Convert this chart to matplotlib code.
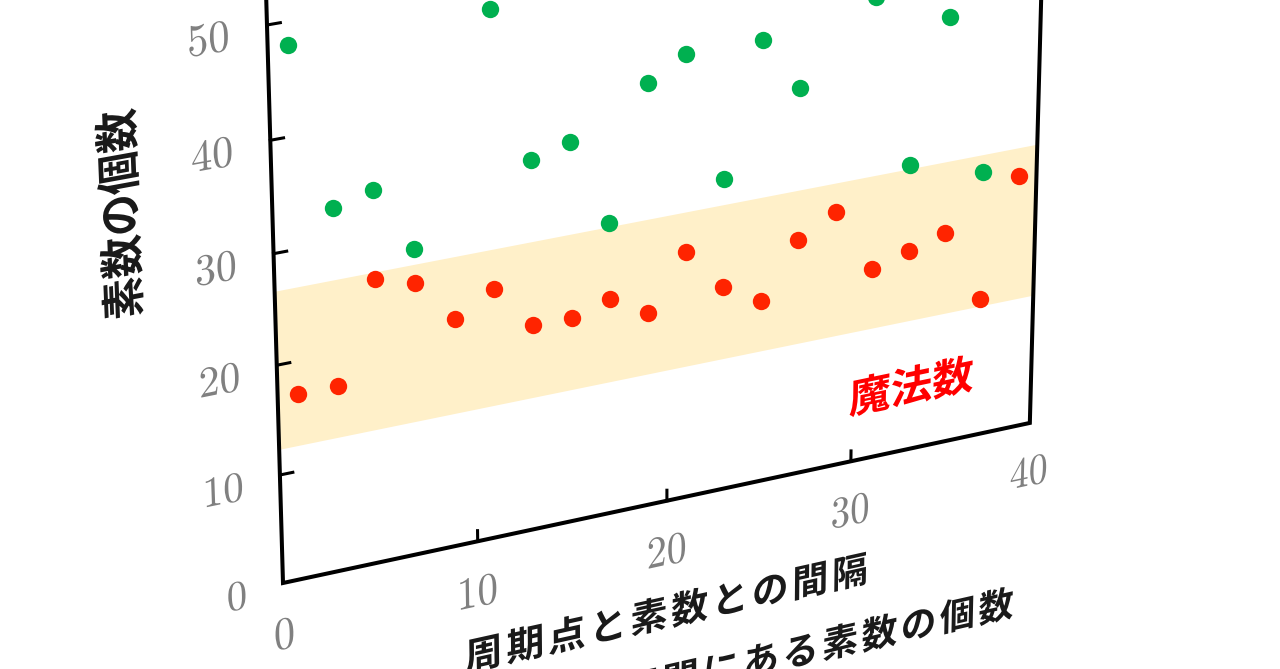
import numpy as np
import matplotlib
matplotlib.use('Agg')
import matplotlib.pyplot as plt
import matplotlib.transforms as mtransforms
from matplotlib.textpath import TextPath
from matplotlib.patches import PathPatch
from matplotlib.path import Path
from matplotlib.font_manager import FontProperties

plt.rcParams['mathtext.fontset'] = 'cm'

# red points: count inside the "magic number" band
red_gap = [1, 3, 5, 7, 9, 11, 13, 15, 17, 19, 21, 23, 25, 27, 29, 31, 33, 35, 37, 39]
red_count = [17, 17, 26, 25, 21, 23, 19, 19, 20, 18, 23, 19, 17, 22, 24, 18, 19, 20, 13, 24]
# green points (those at 9, 29 and 39 are outside the picture)
green_gap = [1, 3, 5, 7, 11, 13, 15, 17, 19, 21, 23, 25, 27, 31, 33, 35, 37]
green_count = [48, 33, 34, 28, 48, 34, 35, 27, 39, 41, 29, 41, 36, 43, 27, 40, 25]
band_low = 12.3
band_high = 26.6
x_ticks = [0, 10, 20, 30, 40]
y_ticks = [0, 10, 20, 30, 40, 50]
x_label = '周期点と素数との間隔'
x_label2 = '区間にある素数の個数'
y_label = '素数の個数'
band_label = '魔法数'

GREEN = '#00B050'
RED = '#FF2400'
BAND = '#FFF0C9'
GRAY = '#808080'
INK = '#1a1a1a'

# the chart is seen in perspective: data (gap, count) -> image pixels
H = [[20.16, -0.534, 283.0],
     [-3.39, -11.18, 583.0],
     [0.001446, -0.0008, 1.0]]


class Perspective(mtransforms.Transform):
    input_dims = 2
    output_dims = 2

    def __init__(self, matrix):
        super().__init__()
        self.matrix = np.asarray(matrix, float)

    def transform_non_affine(self, values):
        values = np.asarray(values, float).reshape(-1, 2)
        p = np.column_stack([values, np.ones(len(values))]) @ self.matrix.T
        return p[:, :2] / p[:, 2:]


fig = plt.figure(figsize=(12.8, 6.69), dpi=100)
ax = fig.add_axes([0, 0, 1, 1])
ax.set_xlim(0, 1280)
ax.set_ylim(669, 0)
ax.axis('off')
ax.set_autoscale_on(False)
proj = Perspective(H) + ax.transData

jp = FontProperties(family='Noto Sans CJK JP', weight='bold')


def put_text(s, u, v, em_x, em_y, ha='center', rot=0, advance=None,
             color=INK, prop=None):
    if advance is None:
        tp = TextPath((0, 0), s, size=1, prop=prop)
    else:
        parts = [TextPath((i * advance, 0), ch, size=1, prop=prop)
                 for i, ch in enumerate(s)]
        tp = Path.make_compound_path(*parts)
    ext = tp.get_extents()
    if ha == 'center':
        dx = -(ext.x0 + ext.x1) / 2
    elif ha == 'right':
        dx = -ext.x1
    else:
        dx = -ext.x0
    dy = -(ext.y0 + ext.y1) / 2
    tr = (mtransforms.Affine2D().translate(dx, dy).rotate_deg(rot)
          .scale(em_x, em_y).translate(u, v))
    ax.add_patch(PathPatch(tr.transform_path(tp), transform=proj,
                           facecolor=color, edgecolor='none', lw=0, zorder=5))


# magic number band
ax.fill([0, 40, 40, 0], [band_low, band_low, band_high, band_high],
        transform=proj, color=BAND, lw=0, zorder=1)

ax.plot(green_gap, green_count, 'o', transform=proj, color=GREEN,
        ms=12.5, mew=0, zorder=3)
ax.plot(red_gap, red_count, 'o', transform=proj, color=RED,
        ms=12.5, mew=0, zorder=3)

# frame: left, bottom, right
ax.plot([0, 0, 40, 40], [62, 0, 0, 62], transform=proj, color='black',
        lw=2.9, solid_joinstyle='miter', zorder=4)
for t in y_ticks[1:]:
    ax.plot([0, 0.65], [t, t], transform=proj, color='black', lw=2.2, zorder=4)
for t in x_ticks[1:-1]:
    ax.plot([t, t], [0, 1.0], transform=proj, color='black', lw=2.2, zorder=4)

for t in y_ticks:
    put_text(r'$%d$' % t, -1.9, t - 0.3, 2.05, 3.9, ha='right', color=GRAY)
for t in x_ticks:
    put_text(r'$%d$' % t, t, -4.75, 2.15, 4.3, color=GRAY)

put_text(y_label, -7.4, 35.9, 2.15, 3.65, rot=90, prop=jp)
put_text(x_label, 20.1, -10.7, 2.0, 3.65, advance=1.1, prop=jp)
put_text(x_label2, 39.3, -17.4, 2.0, 3.65, ha='right', advance=1.1, prop=jp)
put_text(band_label, 33.3, 6.1, 2.3, 4.0, color='#FF0000', prop=jp)

fig.savefig('out.png', dpi=100)
